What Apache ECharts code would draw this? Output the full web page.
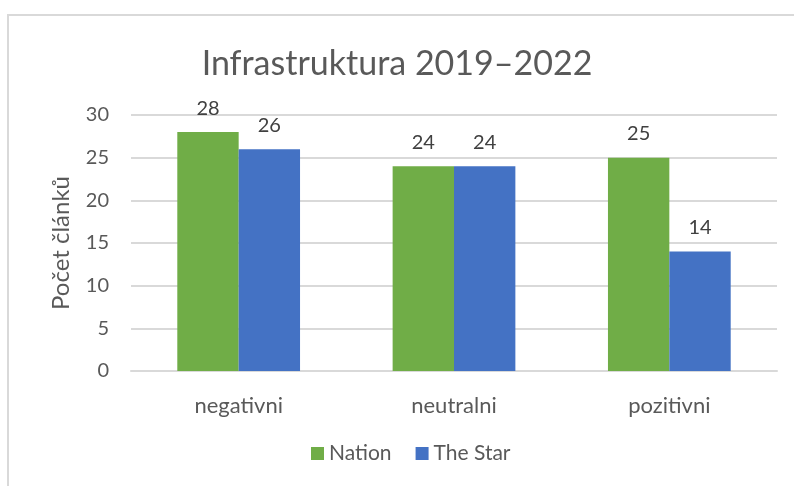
<!DOCTYPE html>
<html>
<head>
<meta charset="utf-8">
<script src="https://cdn.jsdelivr.net/npm/echarts@6/dist/echarts.min.js"></script>
<style>
  html, body { margin: 0; padding: 0; background: #fff; }
  #chart { width: 794px; height: 486px; }
</style>
</head>
<body>
<div id="chart"></div>
<script>
// data
const categories = ["negativni", "neutralni", "pozitivni"];
const nation = [28, 24, 25];
const theStar = [26, 24, 14];
const yTicks = [0, 5, 10, 15, 20, 25, 30];

const font = "Lato, 'Open Sans', sans-serif";
const textGrey = "#595959";

let chart = echarts.init(document.getElementById("chart"));

let option = {
  animation: false,
  textStyle: { fontFamily: font },
  // light frame of the chart area (only top and left are visible)
  graphic: [
    {
      type: "rect",
      shape: { x: 8, y: 15, width: 820, height: 520 },
      style: { fill: "none", stroke: "#d9d9d9", lineWidth: 2 },
      silent: true
    }
  ],
  title: {
    text: "Infrastruktura 2019–2022",
    left: "center",
    top: 42,
    textStyle: {
      fontFamily: font,
      fontSize: 34,
      fontWeight: "normal",
      color: textGrey
    }
  },
  legend: {
    bottom: 17,
    left: 306,
    itemWidth: 13,
    itemHeight: 13,
    itemGap: 24,
    icon: "rect",
    textStyle: { fontFamily: font, fontSize: 21, color: textGrey },
    data: ["Nation", "The Star"]
  },
  grid: {
    left: 131,
    right: 17,
    top: 115,
    bottom: 115
  },
  xAxis: {
    type: "category",
    data: categories,
    axisTick: { show: false },
    axisLine: { lineStyle: { color: "#d9d9d9", width: 2 } },
    axisLabel: {
      margin: 24,
      fontFamily: font,
      fontSize: 22,
      color: textGrey
    }
  },
  yAxis: {
    type: "value",
    min: yTicks[0],
    max: yTicks[yTicks.length - 1],
    interval: 5,
    name: "Počet článků",
    nameLocation: "middle",
    nameGap: 58,
    nameTextStyle: { fontFamily: font, fontSize: 24, color: textGrey },
    axisLine: { show: false },
    axisTick: { show: false },
    axisLabel: {
      margin: 22,
      fontFamily: font,
      fontSize: 20,
      color: textGrey
    },
    splitLine: { lineStyle: { color: "#d9d9d9", width: 2 } }
  },
  series: [
    {
      name: "Nation",
      type: "bar",
      data: nation,
      barGap: "0%",
      barCategoryGap: "43%",
      itemStyle: { color: "#70ad47" },
      label: {
        show: true,
        position: "top",
        distance: 14,
        fontFamily: font,
        fontSize: 20,
        color: "#404040"
      }
    },
    {
      name: "The Star",
      type: "bar",
      data: theStar,
      itemStyle: { color: "#4472c4" },
      label: {
        show: true,
        position: "top",
        distance: 14,
        fontFamily: font,
        fontSize: 20,
        color: "#404040"
      }
    }
  ]
};

chart.setOption(option);
</script>
</body>
</html>
